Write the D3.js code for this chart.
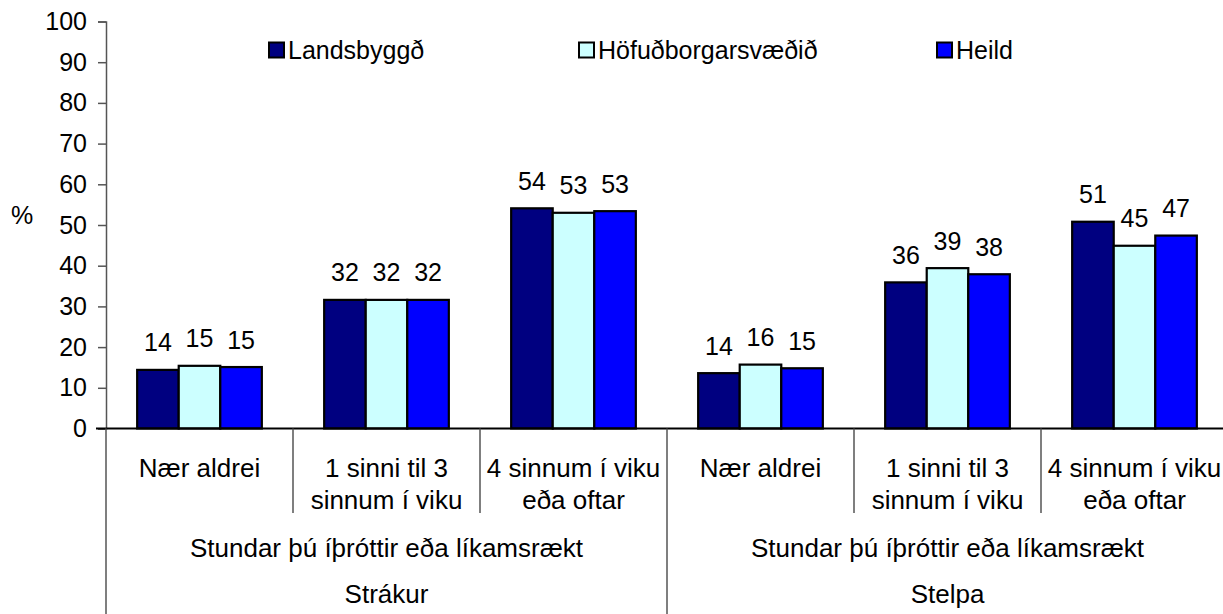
<!DOCTYPE html>
<html>
<head>
<meta charset="utf-8">
<script src="https://cdn.jsdelivr.net/npm/d3@7"></script>
<style>
html,body{margin:0;padding:0;background:#fff;overflow:hidden;}
svg{display:block;font-family:Arial,"Liberation Sans",sans-serif;}
</style>
</head>
<body>
<svg id="chart" width="1223" height="614"></svg>
<script>
// ---- data ----
const categories = [
  ["Nær aldrei"],
  ["1 sinni til 3", "sinnum í viku"],
  ["4 sinnum í viku", "eða oftar"],
  ["Nær aldrei"],
  ["1 sinni til 3", "sinnum í viku"],
  ["4 sinnum í viku", "eða oftar"]
];
const question = "Stundar þú íþróttir eða líkamsrækt";
const groups = ["Strákur", "Stelpa"];
const seriesNames = ["Landsbyggð", "Höfuðborgarsvæðið", "Heild"];
const landsbyggd = [14.4, 31.6, 54.1, 13.6, 35.9, 50.8];
const hofudborg  = [15.4, 31.6, 53.0, 15.7, 39.4, 44.9];
const heild      = [15.1, 31.6, 53.4, 14.8, 37.9, 47.4];
const yTicks = [0, 10, 20, 30, 40, 50, 60, 70, 80, 90, 100];
const colors = ["#000080", "#CCFFFF", "#0000FF"];

const seriesValues = [landsbyggd, hofudborg, heild];

// ---- layout ----
const svg = d3.select("#chart");
const plotL = 106, plotR = 1228, plotT = 21.5, plotB = 428.5;

const y = d3.scaleLinear().domain([0, 100]).range([plotB, plotT]);
const x0 = d3.scaleBand().domain(d3.range(categories.length)).range([plotL, plotR]).paddingInner(0).paddingOuter(0);
const x1 = d3.scaleBand().domain(d3.range(seriesNames.length)).range([0, x0.bandwidth()]).paddingInner(0).paddingOuter(0.75);

// y axis
const yAxis = d3.axisLeft(y).tickValues(yTicks).tickSize(8).tickPadding(11).tickFormat(d3.format("d"));
const gy = svg.append("g").attr("transform", `translate(${plotL},0)`).call(yAxis);
gy.select(".domain").attr("stroke", "#555").attr("stroke-width", 1.5);
gy.selectAll(".tick line").attr("stroke", "#555").attr("stroke-width", 1.5);
gy.selectAll(".tick text").attr("font-size", 25).attr("fill", "#000").attr("font-family", "Arial, 'Liberation Sans', sans-serif");

// % label
svg.append("text").attr("x", 22).attr("y", 224).attr("text-anchor", "middle")
  .attr("font-size", 25).text("%");

// bars
const data = [];
categories.forEach((c, i) => {
  seriesValues.forEach((vals, s) => data.push({ cat: i, s, v: vals[i] }));
});
svg.append("g").selectAll("rect").data(data).join("rect")
  .attr("x", d => x0(d.cat) + x1(d.s))
  .attr("y", d => y(d.v))
  .attr("width", x1.bandwidth())
  .attr("height", d => y(0) - y(d.v))
  .attr("fill", d => colors[d.s])
  .attr("stroke", "#000").attr("stroke-width", 2.2);

// data labels
svg.append("g").selectAll("text").data(data).join("text")
  .attr("x", d => x0(d.cat) + x1(d.s) + x1.bandwidth() / 2)
  .attr("y", d => y(d.v) - 18.5)
  .attr("text-anchor", "middle")
  .attr("font-size", 25)
  .text(d => Math.round(d.v));

// x axis line
svg.append("line").attr("x1", 96).attr("x2", 1223).attr("y1", plotB).attr("y2", plotB)
  .attr("stroke", "#000").attr("stroke-width", 2);

// category dividers
const divG = svg.append("g");
d3.range(categories.length + 1).forEach(i => {
  const xx = plotL + i * x0.step();
  const isGroup = (i % 3 === 0);
  divG.append("line").attr("x1", xx).attr("x2", xx)
    .attr("y1", plotB).attr("y2", isGroup ? 614 : 513)
    .attr("stroke", "#555").attr("stroke-width", 1.5);
});

// category labels
const catG = svg.append("g");
categories.forEach((lines, i) => {
  const cx = x0(i) + x0.bandwidth() / 2;
  lines.forEach((ln, k) => {
    catG.append("text").attr("x", cx).attr("y", 477 + k * 32)
      .attr("text-anchor", "middle").attr("font-size", 26).text(ln);
  });
});

// question and group labels
groups.forEach((g, gi) => {
  const gx = plotL + (gi * 3 + 1.5) * x0.step();
  svg.append("text").attr("x", gx).attr("y", 557).attr("text-anchor", "middle")
    .attr("font-size", 26).text(question);
  svg.append("text").attr("x", gx).attr("y", 603).attr("text-anchor", "middle")
    .attr("font-size", 26).text(g);
});

// legend
const legendX = [268, 578, 936];
const lg = svg.append("g");
seriesNames.forEach((n, i) => {
  lg.append("rect").attr("x", legendX[i] + 1).attr("y", 42.5).attr("width", 15).attr("height", 15)
    .attr("fill", colors[i]).attr("stroke", "#000").attr("stroke-width", 2);
  lg.append("text").attr("x", legendX[i] + 20).attr("y", 58.5).attr("font-size", 25).text(n);
});
</script>
</body>
</html>
